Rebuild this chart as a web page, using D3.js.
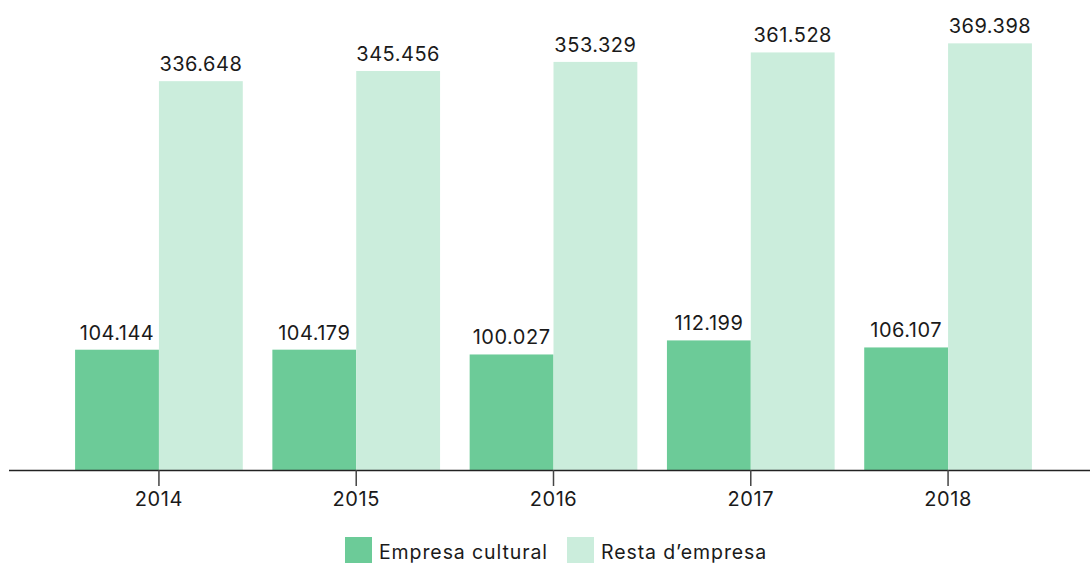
<!DOCTYPE html>
<html>
<head>
<meta charset="utf-8">
<script src="https://cdn.jsdelivr.net/npm/d3@7"></script>
<style>
  html, body { margin: 0; padding: 0; background: #fff; }
  svg { display: block; font-family: Inter, "Noto Sans", sans-serif; }
</style>
</head>
<body>
<svg id="chart" width="1090" height="563"></svg>
<script>
// Years on the x axis
const years = ["2014", "2015", "2016", "2017", "2018"];
// Series (thousands)
const seriesNames = ["Empresa cultural", "Resta d\u2019empresa"];
const empresaCultural = [104.144, 104.179, 100.027, 112.199, 106.107];
const restaEmpresa = [336.648, 345.456, 353.329, 361.528, 369.398];
const seriesColors = ["#6ccb98", "#cbeddc"];

const svg = d3.select("#chart");
const baseY = 470;

const x0 = d3.scaleBand()
  .domain(years)
  .range([9, 1098])
  .paddingInner(0.15)
  .paddingOuter(0.335);

const x1 = d3.scaleBand()
  .domain(seriesNames)
  .range([0, x0.bandwidth()]);

const y = d3.scaleLinear()
  .domain([0, 400])
  .range([baseY, baseY - 462]);

const fmt = v => v.toFixed(3);

const rows = years.map((yr, i) => ({
  year: yr,
  values: [
    { key: seriesNames[0], value: empresaCultural[i], color: seriesColors[0] },
    { key: seriesNames[1], value: restaEmpresa[i], color: seriesColors[1] }
  ]
}));

const groups = svg.append("g")
  .selectAll("g")
  .data(rows)
  .join("g")
  .attr("transform", d => `translate(${x0(d.year)},0)`);

groups.selectAll("rect")
  .data(d => d.values)
  .join("rect")
  .attr("x", d => x1(d.key))
  .attr("y", d => y(d.value))
  .attr("width", x1.bandwidth())
  .attr("height", d => y(0) - y(d.value))
  .attr("fill", d => d.color);

groups.selectAll("text")
  .data(d => d.values)
  .join("text")
  .attr("x", d => x1(d.key) + x1.bandwidth() / 2)
  .attr("y", d => y(d.value) - 10)
  .attr("text-anchor", "middle")
  .attr("font-size", 20)
  .attr("letter-spacing", 0.5)
  .attr("fill", "#1a1a1a")
  .text(d => fmt(d.value));

// Baseline axis
const axis = svg.append("g")
  .attr("transform", `translate(0,${baseY})`)
  .call(d3.axisBottom(x0).tickSize(16).tickPadding(6).tickSizeOuter(0));
axis.select(".domain").attr("d", `M9,0.5H1090`).attr("stroke", "#222").attr("stroke-width", 1.5);
axis.selectAll(".tick line").attr("stroke", "#444").attr("stroke-width", 1.5);
axis.selectAll(".tick text")
  .attr("font-size", 20)
  .attr("letter-spacing", 0.6)
  .attr("fill", "#1a1a1a")
  .attr("font-family", "Inter, sans-serif");

// Legend
const legend = svg.append("g").attr("transform", "translate(345,537)");
const legendX = [0, 222];
seriesNames.forEach((name, i) => {
  const g = legend.append("g").attr("transform", `translate(${legendX[i]},0)`);
  g.append("rect").attr("width", 27).attr("height", 26).attr("fill", seriesColors[i]);
  g.append("text")
    .attr("x", 34)
    .attr("y", 22)
    .attr("font-size", 19.5)
    .attr("letter-spacing", 0.9)
    .attr("fill", "#1a1a1a")
    .text(name);
});
</script>
</body>
</html>
